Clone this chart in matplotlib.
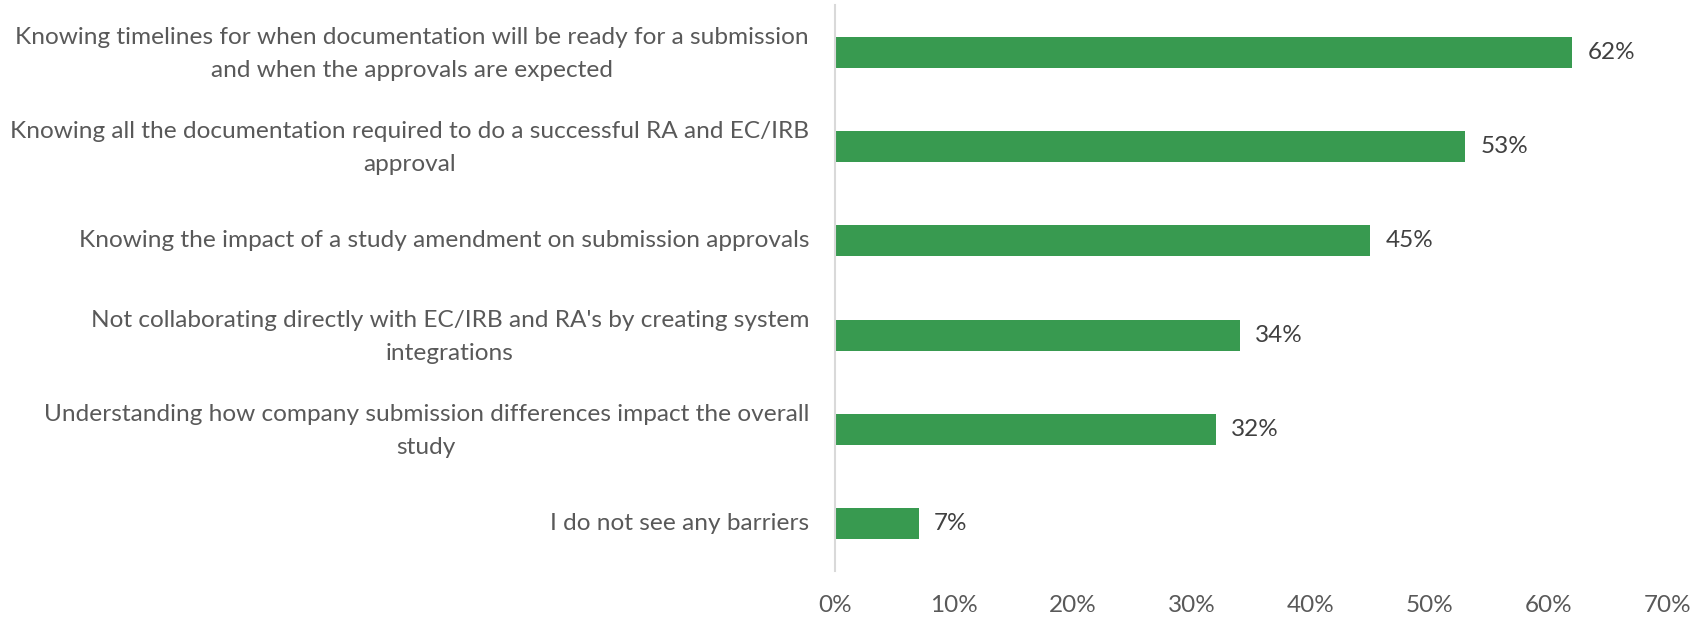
import matplotlib
matplotlib.use("Agg")
import matplotlib.pyplot as plt
import matplotlib.transforms as mtransforms

categories = [
    "Knowing timelines for when documentation will be ready for a submission\nand when the approvals are expected",
    "Knowing all the documentation required to do a successful RA and EC/IRB\napproval",
    "Knowing the impact of a study amendment on submission approvals",
    "Not collaborating directly with EC/IRB and RA's by creating system\nintegrations",
    "Understanding how company submission differences impact the overall\nstudy",
    "I do not see any barriers",
]
values = [62, 53, 45, 34, 32, 7]
xticks = [0, 10, 20, 30, 40, 50, 60, 70]
xtick_labels = ["0%", "10%", "20%", "30%", "40%", "50%", "60%", "70%"]

plt.rcParams['font.family'] = ['Lato', 'DejaVu Sans']

fig = plt.figure(figsize=(17.05, 6.19), dpi=100)
ax = fig.add_axes([0.490, 0.0775, 0.488, 0.9145])

ypos = list(range(len(categories)))[::-1]
ax.barh(ypos, values, height=0.33, color="#389A50", edgecolor="none")

for y, v in zip(ypos, values):
    ax.annotate(f"{v}%", xy=(v, y), xytext=(11, 0), textcoords="offset points",
                ha="left", va="center", fontsize=17.5, color="#404040")

ax.set_xlim(0, 70)
ax.set_ylim(-0.5, len(categories) - 0.5)
ax.set_yticks(ypos)
ax.tick_params(axis="y", length=0, labelleft=False)

for y, cat in zip(ypos, categories):
    dy = -1.5 / 100 if "\n" in cat else 0
    tr = ax.get_yaxis_transform() + mtransforms.ScaledTranslation(
        -19 / 72, dy, fig.dpi_scale_trans)
    ax.text(0, y, cat, transform=tr, fontsize=17.6, color="#595959",
            ha="right", va="center", multialignment="center", linespacing=1.7)

ax.set_xticks(xticks)
ax.set_xticklabels(xtick_labels, fontsize=17.5, color="#595959")
ax.tick_params(axis="x", length=0, pad=17)

for s in ["top", "right", "bottom"]:
    ax.spines[s].set_visible(False)
ax.spines["left"].set_color("#D9D9D9")
ax.spines["left"].set_linewidth(1.5)

fig.savefig("out.png", dpi=100)
